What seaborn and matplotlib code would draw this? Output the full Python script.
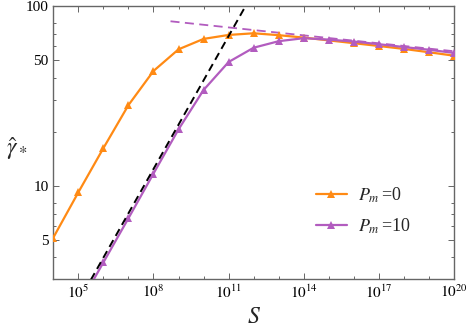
import numpy as np
import pandas as pd
import matplotlib
matplotlib.use('Agg')
import matplotlib.pyplot as plt
import seaborn as sns
from matplotlib.ticker import FixedLocator, NullFormatter

# data
s_pm0 = [1e4, 1e5, 1e6, 1e7, 1e8, 1e9, 1e10, 1e11, 1e12, 1e13, 1e14, 1e16, 1e17, 1e18, 1e19, 1e20]
g_pm0 = [5.15, 9.2, 16.2, 28.1, 43.5, 57.4, 65.6, 69.0, 70.5, 68.8, 66.7, 62.1, 59.9, 57.7, 55.3, 52.9]

s_pm10 = [1e5, 1e6, 1e7, 1e8, 1e9, 1e10, 1e11, 1e12, 1e13, 1e14, 1e15, 1e16, 1e17, 1e18, 1e19, 1e20]
g_pm10 = [2.13, 3.75, 6.6, 11.7, 20.6, 34.1, 48.8, 58.6, 63.7, 66.2, 65.0, 63.4, 61.3, 59.1, 57.1, 54.8]

# asymptotes (straight lines in log-log)
black_s = [1e5, 1e12]
black_g = [2.26, 120.0]
purple_s = [10**8.68, 1e20]
purple_g = [82.2, 56.0]

orange = '#ff8a14'
purple = '#b25cbf'

sns.set_style('ticks')
plt.rcParams['font.family'] = ['Liberation Serif', 'DejaVu Serif']
plt.rcParams['mathtext.fontset'] = 'stix'

fig = plt.figure(figsize=(4.69, 3.32), dpi=100)
ax = fig.add_axes([0.1137, 0.1596, 0.968 - 0.1137, 0.982 - 0.1596])

df0 = pd.DataFrame({'S': s_pm0, 'g': g_pm0})
df10 = pd.DataFrame({'S': s_pm10, 'g': g_pm10})

ax.plot(purple_s, purple_g, color=purple, lw=1.3, dashes=(5, 3), zorder=2)
sns.lineplot(data=df0, x='S', y='g', ax=ax, color=orange, lw=1.6, marker='^',
             markersize=5.5, markeredgewidth=0, label=r'$P_m\,$=0', zorder=3)
sns.lineplot(data=df10, x='S', y='g', ax=ax, color=purple, lw=1.6, marker='^',
             markersize=5.5, markeredgewidth=0, label=r'$P_m\,$=10', zorder=4)
ax.plot(black_s, black_g, color='black', lw=1.4, dashes=(4, 2.5), zorder=5)

ax.set_xscale('log')
ax.set_yscale('log')
ax.set_xlim(1e4, 1e20)
ax.set_ylim(3.03, 100)

ax.xaxis.set_major_locator(FixedLocator([1e5, 1e8, 1e11, 1e14, 1e17, 1e20]))
ax.set_xticklabels([r'$10^{5}$', r'$10^{8}$', r'$10^{11}$', r'$10^{14}$', r'$10^{17}$', r'$10^{20}$'])
ax.xaxis.set_minor_locator(FixedLocator([10.0**k for k in range(4, 21) if k % 3 != 2]))
ax.xaxis.set_minor_formatter(NullFormatter())

ax.yaxis.set_major_locator(FixedLocator([5, 10, 50, 100]))
ax.set_yticklabels(['5', '10', '50', '100'])
ax.yaxis.set_minor_locator(FixedLocator([4, 6, 7, 8, 20, 30, 40, 60, 70, 80]))
ax.yaxis.set_minor_formatter(NullFormatter())

ax.tick_params(which='both', direction='in', top=True, right=True, colors='#666666',
               labelcolor='black', labelsize=11, width=0.7)
ax.tick_params(which='major', length=4)
ax.tick_params(which='minor', length=2.5)
for sp in ax.spines.values():
    sp.set_color('#666666')
    sp.set_linewidth(1.0)

ax.set_xlabel(r'$S$', fontsize=17, labelpad=4)
ax.set_ylabel(r'$\hat{\gamma}_*$', fontsize=17, rotation=0)
ax.yaxis.set_label_coords(-0.092, 0.43)

ax.legend(loc='center left', bbox_to_anchor=(0.615, 0.25), frameon=False, fontsize=13,
          handlelength=1.7, handletextpad=0.6, labelspacing=0.65)

fig.savefig('out.png', dpi=100)
